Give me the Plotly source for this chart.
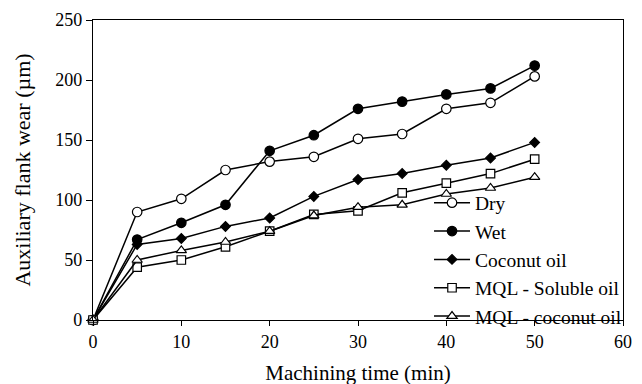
import plotly.graph_objects as go

time_min = [0, 5, 10, 15, 20, 25, 30, 35, 40, 45, 50]
dry = [0, 90, 101, 125, 132, 136, 151, 155, 176, 181, 203]
wet = [0, 67, 81, 96, 141, 154, 176, 182, 188, 193, 212]
coconut = [0, 63, 68, 78, 85, 103, 117, 122, 129, 135, 148]
mql_soluble = [0, 44, 50, 61, 74, 88, 91, 106, 114, 122, 134]
mql_coconut = [0, 50, 58, 65, 74, 87, 94, 96, 105, 110, 119]

series = [
    ("Dry", dry, "circle-open", 9.5),
    ("Wet", wet, "circle", 9.5),
    ("Coconut oil", coconut, "diamond", 7.5),
    ("MQL - Soluble oil", mql_soluble, "square-open", 8.5),
    ("MQL - coconut oil", mql_coconut, "triangle-up-open", 9),
]

fig = go.Figure()
for name, vals, sym, sz in series:
    fill = "black" if not sym.endswith("open") else "white"
    fig.add_trace(go.Scatter(
        x=time_min, y=vals, name=name, mode="lines+markers",
        line=dict(color="black", width=1.5),
        marker=dict(symbol=sym.replace("-open", ""), size=sz, color=fill,
                    line=dict(color="black", width=1.2)),
        cliponaxis=False,
    ))

font_family = "Times New Roman"
fig.update_layout(
    width=642, height=384,
    margin=dict(l=85, r=27, t=12, b=72, autoexpand=False),
    paper_bgcolor="white", plot_bgcolor="white",
    font=dict(family=font_family, color="black", size=18),
    showlegend=True,
    legend=dict(x=0.634, y=0.455, xanchor="left", yanchor="top",
                bgcolor="rgba(0,0,0,0)", font=dict(family=font_family, size=19.5),
                borderwidth=0, tracegroupgap=0, itemwidth=36),
    xaxis=dict(range=[0, 60], dtick=10, showgrid=False, zeroline=False,
               showline=True, linecolor="black", linewidth=1.2, mirror=True,
               ticks="outside", ticklen=5, tickcolor="black", automargin=False,
               tickfont=dict(family=font_family, size=18),
               title=dict(text="Machining time (min)", font=dict(family=font_family, size=21), standoff=14)),
    yaxis=dict(range=[0, 250], dtick=50, showgrid=False, zeroline=False,
               showline=True, linecolor="black", linewidth=1.2, mirror=True,
               ticks="outside", ticklen=6, tickcolor="black", automargin=False,
               tickfont=dict(family=font_family, size=18),
               title=dict(text="Auxiliary flank wear (µm)", font=dict(family=font_family, size=22), standoff=18)),
)
fig.write_html("out.html")
